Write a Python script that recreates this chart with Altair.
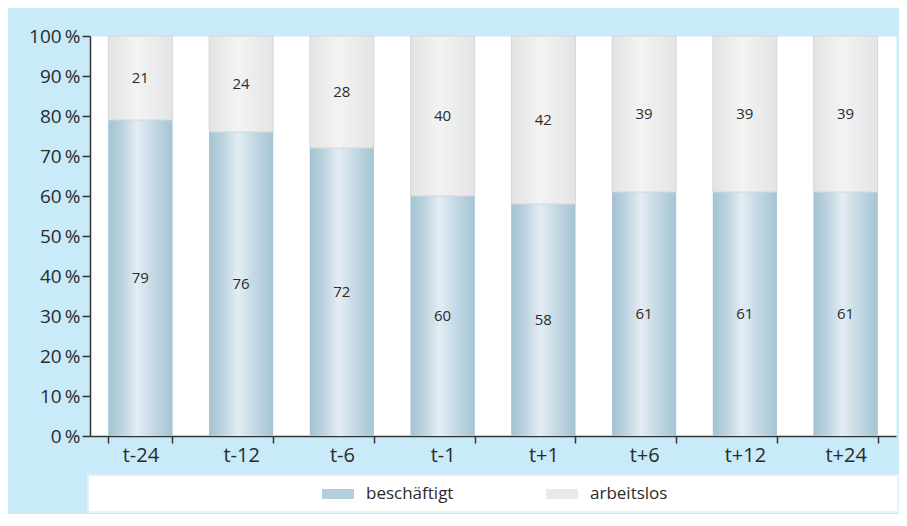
import altair as alt
import pandas as pd

categories = ["t-24", "t-12", "t-6", "t-1", "t+1", "t+6", "t+12", "t+24"]
employed = [79, 76, 72, 60, 58, 61, 61, 61]
unemployed = [21, 24, 28, 40, 42, 39, 39, 39]
series = ["beschäftigt", "arbeitslos"]
y_ticks = [0, 10, 20, 30, 40, 50, 60, 70, 80, 90, 100]

rows = []
for c, e, u in zip(categories, employed, unemployed):
    rows.append({"cat": c, "series": series[0], "order": 0, "value": e})
    rows.append({"cat": c, "series": series[1], "order": 1, "value": u})
df = pd.DataFrame(rows)

FONT = "Open Sans"
TXT = "#2b2b2b"

blue_grad = alt.LinearGradient(
    gradient="linear", x1=0, x2=1, y1=0, y2=0,
    stops=[
        alt.GradientStop(offset=0, color="#a3c2d2"),
        alt.GradientStop(offset=0.22, color="#bdd4e0"),
        alt.GradientStop(offset=0.45, color="#e3edf3"),
        alt.GradientStop(offset=0.7, color="#c4d9e4"),
        alt.GradientStop(offset=1, color="#a5c4d4"),
    ],
)
gray_grad = alt.LinearGradient(
    gradient="linear", x1=0, x2=1, y1=0, y2=0,
    stops=[
        alt.GradientStop(offset=0, color="#e2e3e4"),
        alt.GradientStop(offset=0.45, color="#f3f3f3"),
        alt.GradientStop(offset=1, color="#e3e4e5"),
    ],
)

base = alt.Chart(df).transform_stack(
    stack="value", as_=["y0", "y1"], groupby=["cat"],
    sort=[alt.SortField("order", order="ascending")],
).transform_calculate(mid="(datum.y0 + datum.y1) / 2")

x_enc = alt.X(
    "cat:N", sort=categories,
    scale=alt.Scale(paddingInner=0.365),
    axis=alt.Axis(
        title=None, labelAngle=0, labelFont=FONT, labelFontSize=20,
        labelColor=TXT, domainColor="#333333", domainWidth=1.5,
        tickColor="#333333", tickWidth=1.5, tickSize=7, tickBand="extent",
        labelPadding=2,
    ),
)
y_scale = alt.Scale(domain=[0, 100], nice=False)
y_axis = alt.Axis(
    title=None, values=y_ticks, labelExpr="datum.value + '\u2009%'",
    grid=False, labelFont=FONT, labelFontSize=19, labelColor=TXT,
    labelOverlap=False,
    domainColor="#333333", domainWidth=1.5, tickColor="#333333",
    tickWidth=1.5, tickSize=8, labelPadding=2,
)
y_enc = alt.Y("y0:Q", scale=y_scale, axis=y_axis)

legend_box = alt.Chart(alt.Data(values=[{"a": 1}])).mark_rect(
    fill="white", stroke="#e2f2fb", strokeWidth=2
).encode(
    x=alt.value(-2), x2=alt.value(808), y=alt.value(439), y2=alt.value(476)
)

legend_layer = base.mark_bar().encode(
    x=x_enc, y=y_enc, y2="y1:Q",
    color=alt.Color(
        "series:N",
        scale=alt.Scale(domain=series, range=["#b3cfdc", "#e8e9ea"]),
        legend=alt.Legend(
            title=None, orient="none", legendX=238, legendY=448,
            direction="horizontal", padding=0,
            symbolType="M-1.6,-0.5L1.6,-0.5L1.6,0.5L-1.6,0.5Z",
            symbolSize=400, symbolStrokeWidth=0,
            labelFont=FONT, labelFontSize=17, labelColor=TXT,
            labelOffset=18, columnPadding=92,
        ),
    ),
)

blue_bars = base.transform_filter(alt.datum.order == 0).mark_bar(
    color=blue_grad
).encode(x=x_enc, y=y_enc, y2="y1:Q")

gray_bars = base.transform_filter(alt.datum.order == 1).mark_bar(
    color=gray_grad, stroke="#d6d7d8", strokeWidth=1
).encode(x=x_enc, y=y_enc, y2="y1:Q")

labels = base.mark_text(
    font=FONT, fontSize=15, color=TXT
).encode(x=x_enc, y=alt.Y("mid:Q", scale=y_scale, axis=y_axis), text="value:Q")

chart = alt.layer(legend_box, legend_layer, blue_bars, gray_bars, labels).properties(
    width=806, height=400,
    autosize=alt.AutoSizeParams(type="none"),
    padding={"left": 82, "top": 28, "right": 3, "bottom": 78},
    background="#c8eaf9",
).configure_view(fill="white", stroke="transparent")

chart.save("out.html", embed_options={"renderer": "svg", "actions": False})
